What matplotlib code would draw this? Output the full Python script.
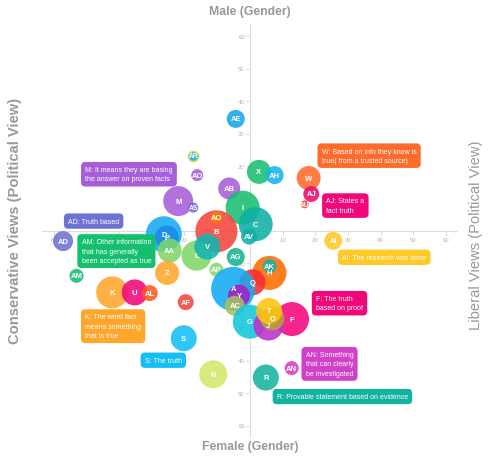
import numpy as np
import matplotlib
matplotlib.use("Agg")
import matplotlib.pyplot as plt

plt.rcParams["font.family"] = ["Liberation Sans", "DejaVu Sans"]

# bubble data: label, x (political view), y (gender), size
labels = ["AE", "AR", "AO", "X", "AH", "W", "AJ", "AU", "AB", "M", "AS", "I",
          "AV", "C", "B", "AO", "AI", "AD", "AM", "D", "P", "AA", "L", "V",
          "AP", "Z", "K", "U", "AL", "AG", "H", "AK", "Q", "A", "Y", "AC",
          "G", "F", "J", "O", "T", "AF", "S", "N", "R", "AN"]
xs = [-4.3, -17.3, -16.1, 2.8, 7.6, 18.0, 18.8, 16.8, -6.3, -21.9, -17.3, -2.2,
      -0.2, 1.8, -10.2, -10.2, 25.5, -57.1, -53.0, -26.3, -25.4, -24.5, -16.3, -13.0,
      -10.2, -25.3, -42.1, -35.2, -30.6, -4.3, 6.0, 6.1, 0.8, -5.1, -3.3, -4.6,
      0.0, 12.9, 5.7, 6.9, 5.9, -19.6, -20.2, -11.2, 4.9, 12.8]
ys = [34.5, 23.2, 17.2, 18.2, 17.2, 16.3, 11.4, 8.2, 13.1, 9.2, 7.2, 7.2,
      -1.7, 2.1, -0.1, 4.1, -3.0, -3.1, -13.8, -1.0, -2.0, -6.0, -7.6, -4.8,
      -11.9, -12.9, -18.9, -18.9, -19.1, -8.0, -12.9, -10.8, -15.8, -17.8, -19.9, -23.0,
      -27.9, -27.1, -29.1, -26.9, -24.6, -21.9, -33.0, -44.1, -45.1, -42.2]
sizes = [9, 5, 6, 12, 9, 12, 8, 4, 11, 15, 5, 17,
         8, 17, 21, 6, 9, 10, 7, 18, 12, 12, 15, 13,
         7, 12, 16, 13, 8, 9, 17, 7, 13, 22, 11, 10,
         17, 17, 15, 12, 13, 8, 13, 14, 13, 7]
colors = ["#14A5EA", "#1AA8E8", "#A65FD9", "#19BE72", "#1AB2F0", "#FF6B2B", "#EE0A6A",
          "#F5453C", "#A65FD9", "#A65FD9", "#6C6FD0", "#19BE72", "#0FB0A4", "#0FB0A4",
          "#F5453C", "#FF7A00", "#FFC926", "#6E72D2", "#14C06E", "#14AAF2", "#1A8CE8",
          "#7ED867", "#7ED867", "#14B4B0", "#8BD873", "#FFA62B", "#FFA62B", "#F0087A",
          "#FF5A1F", "#14B38C", "#FF6A00", "#14B3A3", "#F52D2D", "#14AAF2", "#A020C8",
          "#A8C060", "#12C6DA", "#F5077F", "#C030C8", "#B8A040", "#FFC30F", "#F5453C",
          "#15BFF5", "#D4E86A", "#14B3A0", "#D040C8"]

# callouts: bubble index, text, box colour
notes = [
    (9, "M: It means they are basing\nthe answer on proven facts", "#A65FD9"),
    (17, "AD: Truth based", "#6E72D2"),
    (18, "AM: Other information\nthat has generally\nbeen accepted as true", "#14C06E"),
    (5, "W: Based on info they know is\ntrue( from a trusted source)", "#FF6B2B"),
    (6, "AJ: States a\nfact truth", "#F0087A"),
    (16, "AI: The research was done", "#FFC926"),
    (26, "K: The word fact\nmeans something\nthat is true", "#FFA62B"),
    (42, "S: The truth", "#15BFF5"),
    (37, "F: The truth\nbased on proof", "#F0087A"),
    (45, "AN: Something\nthat can clearly\nbe investigated", "#D040C8"),
    (44, "R: Provable statement based on evidence", "#14B3A0"),
]
# offsets of callout text from bubble centre (pixels, right / down)
note_offsets = [(-93, -35), (5, -23.5), (5, -37.5), (13, -30.5), (15, 3.5), (9, 13),
                (-27, 21), (-39, 18.5), (24, -24), (14, -17), (11, 15.5)]

ticks = [10, 20, 30, 40, 50, 60]
lim = 63.5

fig = plt.figure(figsize=(4.97, 4.64), dpi=100)
ax = fig.add_axes([0, 0, 1, 1])
ax.set_xlim(-76.4, 75.6)
ax.set_ylim(-71.4, 71.4)
ax.axis("off")

# axes through the origin
axc = "#dddddd"
ax.plot([-lim, lim], [0, 0], color=axc, lw=0.8, zorder=1)
ax.plot([0, 0], [-lim, lim + 0.2], color=axc, lw=0.8, zorder=1)
tk = "#b5b5b5"
for t in ticks:
    for s in (-1, 1):
        ax.plot([s * t, s * t], [0, -1.2], color=axc, lw=0.7, zorder=1)
        ax.plot([-1.1, 0], [s * t, s * t], color=axc, lw=0.7, zorder=1)
        ax.text(s * t, -1.7, str(t), ha="center", va="top", fontsize=4.3, color=tk, zorder=1)
        ax.text(-1.5, s * t, str(t), ha="right", va="center", fontsize=4.3, color=tk, zorder=1)

# bubbles
px2pt = 0.72
for i in range(len(labels)):
    r = sizes[i] * px2pt
    edge = "#C8E040" if labels[i] == "AR" else "none"
    ax.scatter(xs[i], ys[i], s=(2 * r) ** 2, color=colors[i], alpha=0.88,
               edgecolors=edge, linewidths=1.2, zorder=2 + i * 0.01)
for i in range(len(labels)):
    fs = 5.5 if sizes[i] >= 6 else 4.8
    ax.text(xs[i], ys[i], labels[i], ha="center", va="center", fontsize=fs,
            color="white", fontweight="bold", zorder=5)

# callout boxes
for (idx, txt, col), (dx, dy) in zip(notes, note_offsets):
    ax.annotate(txt, xy=(xs[idx], ys[idx]), xytext=(dx * px2pt, -dy * px2pt),
                textcoords="offset points", ha="left", va="top", fontsize=5,
                color="white", linespacing=1.45, zorder=6,
                bbox=dict(boxstyle="round,pad=0.6,rounding_size=0.6", fc=col, ec="none"))

# axis titles
tc = "#999999"
ax.text(0, 67.6, "Male (Gender)", ha="center", va="center", fontsize=8.8,
        fontweight="bold", color=tc)
ax.text(0, -66.3, "Female (Gender)", ha="center", va="center", fontsize=8.8,
        fontweight="bold", color=tc)
ax.text(-71.8, 3.5, "Conservative Views (Political View)", ha="center", va="center",
        rotation=90, fontsize=10.6, fontweight="bold", color=tc)
ax.text(69.2, -1.0, "Liberal Views (Political View)", ha="center", va="center",
        rotation=90, fontsize=10.6, color=tc)

fig.savefig("out.png", dpi=100)
